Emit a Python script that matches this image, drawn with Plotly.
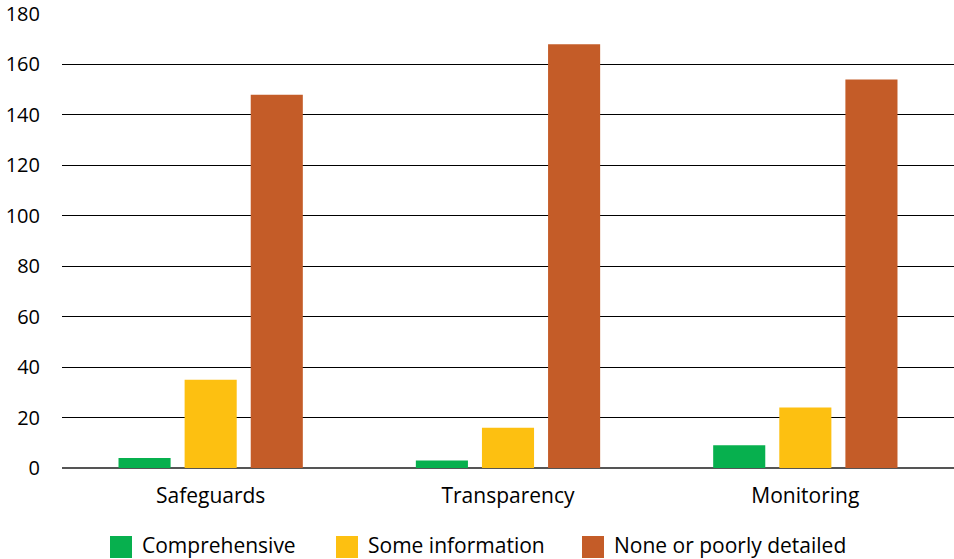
import plotly.graph_objects as go

categories = ["Safeguards", "Transparency", "Monitoring"]
comprehensive = [4, 3, 9]
some_information = [35, 16, 24]
none_or_poor = [148, 168, 154]

series_names = ["Comprehensive", "Some information", "None or poorly detailed"]
series_values = [comprehensive, some_information, none_or_poor]
series_colors = ["#07b04e", "#fdc011", "#c45c28"]

y_ticks = [0, 20, 40, 60, 80, 100, 120, 140, 160, 180]

FONT = "Open Sans"
W, H = 954, 559
ML, MR, MT, MB = 62, 0, 14, 91


def px_x(p):
    return (p - ML) / (W - ML - MR)


def px_y(p):
    return (H - MB - p) / (H - MT - MB)


fig = go.Figure()
for name, vals, color in zip(series_names, series_values, series_colors):
    fig.add_trace(go.Bar(
        x=categories, y=vals, name=name,
        marker=dict(color=color, line=dict(width=0)),
        showlegend=False,
    ))

# Legend row below the axis: square keys with text labels
key_left = [110, 336, 582]
key_size = 22
key_top = 536
for left, name, color in zip(key_left, series_names, series_colors):
    fig.add_shape(
        type="rect", xref="paper", yref="paper",
        x0=px_x(left), x1=px_x(left + key_size),
        y0=px_y(key_top + key_size), y1=px_y(key_top),
        fillcolor=color, line=dict(width=0),
    )
    fig.add_annotation(
        xref="paper", yref="paper",
        x=px_x(left + key_size + 8), y=px_y(544.5),
        xanchor="left", yanchor="middle", showarrow=False,
        text=name, font=dict(family=FONT, size=21, color="black"),
    )

fig.update_layout(
    width=W, height=H,
    margin=dict(l=ML, r=MR, t=MT, b=MB),
    paper_bgcolor="white", plot_bgcolor="white",
    barmode="group", bargap=0.333, bargroupgap=0.212,
    font=dict(family=FONT, size=21, color="black"),
    showlegend=False,
    xaxis=dict(
        showgrid=False, showline=False, ticks="", tickfont=dict(size=21),
        ticklabelstandoff=13,
    ),
    yaxis=dict(
        range=[0, 180], tickvals=y_ticks, showgrid=True,
        gridcolor="black", gridwidth=1.2,
        zeroline=True, zerolinecolor="#555555", zerolinewidth=2,
        ticks="", ticklabelstandoff=21, tickfont=dict(size=20),
    ),
)

fig.write_html("out.html")
